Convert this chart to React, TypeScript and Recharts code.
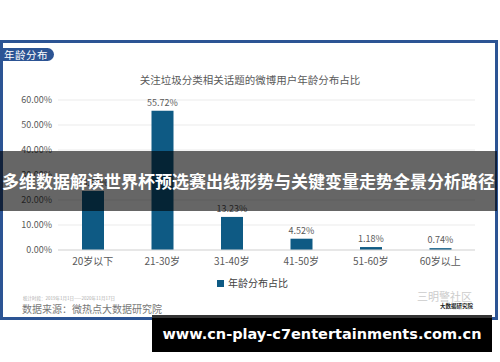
import { BarChart, Bar, XAxis, YAxis, CartesianGrid, LabelList } from 'recharts';

const AGE_GROUPS = ['20岁以下', '21-30岁', '31-40岁', '41-50岁', '51-60岁', '60岁以上'];
const SHARE = [23.6, 55.72, 13.23, 4.52, 1.18, 0.74];
const Y_TICKS = [0, 10, 20, 30, 40, 50, 60];

const FONT = '"Noto Sans CJK SC", "Noto Sans", sans-serif';
const BAR_COLOR = '#0E5A84';
const FRAME_BLUE = '#2C5494';

const data = AGE_GROUPS.map((group, i) => ({ group, share: SHARE[i] }));

const pct = (v: number) => `${Number(v).toFixed(2)}%`;

export default function App() {
  return (
    <div
      style={{
        position: 'absolute',
        top: 0,
        left: 0,
        width: 500,
        height: 362,
        background: '#fff',
        overflow: 'hidden',
        fontFamily: FONT,
      }}
    >
      {/* blue frame around the card */}
      <div
        style={{
          position: 'absolute',
          top: 40,
          left: 0,
          width: 492,
          height: 274,
          border: `3px solid ${FRAME_BLUE}`,
        }}
      />
      {/* section tab */}
      <div
        style={{
          position: 'absolute',
          top: 48,
          left: 0,
          width: 54,
          height: 13,
          background: FRAME_BLUE,
          borderRadius: '0 7px 7px 0',
          color: '#fff',
          fontSize: 10.5,
          lineHeight: '13px',
          paddingLeft: 4,
          boxSizing: 'border-box',
          letterSpacing: 0.5,
        }}
      >
        年龄分布
      </div>
      <div
        style={{
          position: 'absolute',
          top: 73,
          left: 0,
          width: 500,
          textAlign: 'center',
          fontSize: 10.5,
          color: '#595959',
          lineHeight: '14px',
        }}
      >
        关注垃圾分类相关话题的微博用户年龄分布占比
      </div>

      <div style={{ position: 'absolute', top: 0, left: 0 }}>
        <BarChart
          width={500}
          height={362}
          data={data}
          margin={{ top: 100, right: 25, bottom: 82, left: 0 }}
        >
          <CartesianGrid vertical={false} stroke="#EBEBEB" />
          <XAxis
            dataKey="group"
            height={30}
            tickLine={false}
            axisLine={{ stroke: '#D9D9D9' }}
            tick={{ fontSize: 10, fill: '#595959', fontFamily: FONT }}
            interval={0}
          />
          <YAxis
            width={58}
            domain={[0, 60]}
            ticks={Y_TICKS}
            tickFormatter={pct}
            tickLine={false}
            axisLine={false}
            tickSize={4}
            tick={{ fontSize: 9, fill: '#595959', fontFamily: FONT }}
          />
          <Bar dataKey="share" fill={BAR_COLOR} barSize={22} isAnimationActive={false}>
            <LabelList
              dataKey="share"
              position="top"
              formatter={(v: any) => pct(v)}
              style={{ fontSize: 9, fill: '#595959', fontFamily: FONT }}
            />
          </Bar>
        </BarChart>
      </div>

      {/* legend */}
      <div
        style={{
          position: 'absolute',
          top: 276,
          left: 217,
          display: 'flex',
          alignItems: 'center',
          fontSize: 10,
          color: '#404040',
          lineHeight: '14px',
        }}
      >
        <span style={{ width: 7, height: 7, background: BAR_COLOR, marginRight: 4, display: 'inline-block' }} />
        年龄分布占比
      </div>

      {/* footer */}
      <div style={{ position: 'absolute', top: 295, left: 23, fontSize: 4.5, color: '#aaa', lineHeight: '6px' }}>
        统计时段：2019年1月1日——2020年11月17日
      </div>
      <div style={{ position: 'absolute', top: 302, left: 22, fontSize: 10, color: '#777', lineHeight: '13px' }}>
        数据来源：微热点大数据研究院
      </div>
      <div style={{ position: 'absolute', top: 290, left: 417, fontSize: 11, color: '#ccc', lineHeight: '12px' }}>
        三明警社区
      </div>
      <div
        style={{
          position: 'absolute',
          top: 303,
          left: 440,
          fontSize: 5.5,
          color: '#222',
          fontWeight: 700,
          lineHeight: '6px',
        }}
      >
        大数据研究院
      </div>

      {/* overlay banner */}
      <div
        style={{
          position: 'absolute',
          top: 151,
          left: 0,
          width: 497,
          height: 60,
          background: 'rgba(0,0,0,0.6)',
          color: '#fff',
          fontWeight: 700,
          fontSize: 17,
          lineHeight: '60px',
          textAlign: 'center',
          whiteSpace: 'nowrap',
        }}
      >
        多维数据解读世界杯预选赛出线形势与关键变量走势全景分析路径
      </div>

      {/* bottom url box */}
      <div
        style={{
          position: 'absolute',
          top: 315,
          left: 152,
          width: 340,
          height: 37,
          background: '#000',
          borderTop: '3px solid #333',
          boxSizing: 'border-box',
          color: '#fff',
          fontFamily: '"DejaVu Sans", sans-serif',
          fontWeight: 700,
          fontSize: 14.5,
          lineHeight: '33px',
          textAlign: 'center',
          whiteSpace: 'nowrap',
        }}
      >
        www.cn-play-c7entertainments.com.cn
      </div>
    </div>
  );
}
